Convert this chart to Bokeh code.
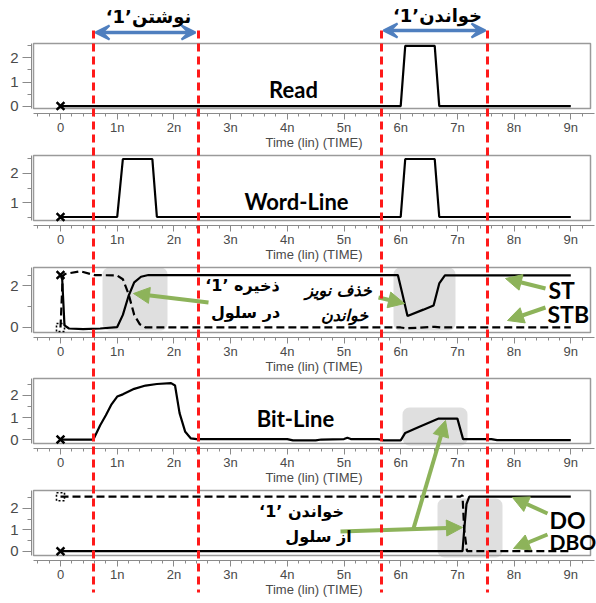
import numpy as np
from bokeh.plotting import figure
from bokeh.models import (Range1d, LinearAxis, FixedTicker, Label, Arrow,
                          NormalHead, VeeHead, BoxAnnotation)
from bokeh.embed import file_html
from bokeh.resources import INLINE

# ---------------- data ----------------
x_ticks = [0, 1, 2, 3, 4, 5, 6, 7, 8, 9]
x_tick_labels = ["0", "1n", "2n", "3n", "4n", "5n", "6n", "7n", "8n", "9n"]
x_axis_title = "Time (lin) (TIME)"

read_t = [0, 6.0, 6.08, 6.6, 6.68, 9.0]
read_v = [0, 0, 2.5, 2.5, 0, 0]

wl_t = [0, 1.0, 1.1, 1.62, 1.7, 6.0, 6.08, 6.6, 6.68, 9.0]
wl_v = [0.5, 0.5, 2.5, 2.5, 0.5, 0.5, 2.5, 2.5, 0.5, 0.5]

st_t = [0, 0.03, 0.07, 0.15, 0.4, 0.7, 1.0, 1.1, 1.2, 1.3, 1.42, 1.55, 2.5,
        5.95, 6.03, 6.12, 6.4, 6.58, 6.68, 6.78, 9.0]
st_v = [2.5, 2.3, 0.1, -0.05, -0.08, -0.05, 0.02, 0.6, 1.5, 2.15, 2.42, 2.5, 2.5,
        2.5, 1.6, 0.55, 0.85, 1.05, 2.1, 2.48, 2.48]

stb_t = [0, 0.04, 0.08, 0.35, 0.6, 1.0, 1.1, 1.2, 1.3, 1.4, 1.5, 6.0, 6.1, 6.6, 6.7, 9.0]
stb_v = [0, 2.45, 2.55, 2.68, 2.5, 2.48, 2.3, 1.6, 0.6, 0.15, 0.0, 0.0, -0.04, 0.03, 0.0, 0.0]

bl_t = [0, 0.58, 0.7, 0.8, 0.9, 1.0, 1.1, 1.3, 1.5, 1.7, 1.95, 2.02, 2.1, 2.2, 2.3,
        2.4, 4.0, 4.1, 4.5, 4.6, 5.0, 5.06, 5.12, 5.6, 5.7, 6.0, 6.08, 6.3,
        6.67, 7.0, 7.1, 7.6, 7.7, 9.0]
bl_v = [0, 0, 0.65, 1.1, 1.6, 1.95, 2.05, 2.3, 2.45, 2.52, 2.56, 2.45, 1.2, 0.35, 0.05,
        0.02, 0.02, -0.04, -0.04, 0.0, 0.02, 0.08, 0.02, 0.02, -0.04, -0.04, 0.3, 0.55,
        0.95, 0.95, 0.02, 0.02, -0.03, -0.03]

do_t = [0, 7.09, 7.12, 7.16, 7.21, 9.0]
do_v = [0, 0, 1.0, 2.2, 2.55, 2.55]

dbo_t = [0, 7.05, 7.09, 7.12, 7.17, 9.0]
dbo_v = [2.55, 2.55, 2.62, 1.0, 0.0, 0.0]

marks = {"t": [0]}

# ---------------- layout ----------------
W, H = 596, 603
PX0, PXS = 60.0, 56.7          # picture x of t=0, px per ns


def tx(px):
    return (px - PX0) / PXS


p = figure(width=W, height=H, output_backend="svg", toolbar_location=None,
           x_axis_type=None, y_axis_type=None, min_border=0,
           x_range=Range1d(tx(0), tx(W)), y_range=Range1d(H, 0))
p.outline_line_color = None
p.background_fill_color = "white"

AX = "#8a8a8a"
TXT = "#4a4a4a"
TICK_FONT = "Liberation Sans"

panels = [
    # name, box top px, box bottom px, value at bottom, value at top, y ticks, y minor
    ("p1", 43, 108, -0.1, 2.6, [0, 1, 2], [0.5, 1.5, 2.5]),
    ("p2", 155, 220, 0.38, 2.62, [1, 2], [0.5, 1.5, 2.5]),
    ("p3", 267, 332, -0.24, 2.86, [0, 2], [1, 2.5]),
    ("p4", 378, 443, -0.18, 2.77, [0, 1, 2], [0.5, 1.5, 2.5]),
    ("p5", 490, 555, -0.2, 2.84, [0, 1, 2], [0.5, 1.5, 2.5]),
]
x_minor = [round(v, 2) for v in np.arange(-0.4, 9.3, 0.2)]
XL, XR = tx(33), tx(590)

for name, top, bot, vlo, vhi, yt, ym in panels:
    s = (bot - top) / (vhi - vlo)

    def v(py, vlo=vlo, bot=bot, s=s):
        return vlo + (bot - py) / s
    p.extra_y_ranges[name] = Range1d(v(H), v(0))

    # panel box
    p.quad(left=[XL], right=[XR], bottom=[vlo], top=[vhi], y_range_name=name,
           fill_color=None, line_color="#9a9a9a", line_width=1.5)

    yax = LinearAxis(y_range_name=name, fixed_location=tx(31), bounds=(vlo, vhi),
                     ticker=FixedTicker(ticks=yt, minor_ticks=ym))
    yax.axis_line_color = AX
    yax.major_tick_line_color = AX
    yax.minor_tick_line_color = AX
    yax.major_tick_out = 9
    yax.major_tick_in = 0
    yax.minor_tick_out = 4
    yax.minor_tick_in = 0
    yax.major_label_standoff = 4
    yax.major_label_text_font = TICK_FONT
    yax.major_label_text_font_size = "15px"
    yax.major_label_text_color = TXT
    p.add_layout(yax, "left")

    xax = LinearAxis(y_range_name=name, fixed_location=v(bot + 5), bounds=(XL, tx(594)),
                     ticker=FixedTicker(ticks=x_ticks, minor_ticks=x_minor),
                     major_label_overrides=dict(zip(x_ticks, x_tick_labels)),
                     axis_label=x_axis_title)
    xax.axis_line_color = AX
    xax.major_tick_line_color = AX
    xax.minor_tick_line_color = AX
    xax.major_tick_out = 6
    xax.major_tick_in = 0
    xax.minor_tick_out = 3
    xax.minor_tick_in = 0
    xax.major_label_standoff = 0
    xax.major_label_text_font = TICK_FONT
    xax.major_label_text_font_size = "13px"
    xax.major_label_text_color = TXT
    xax.axis_label_text_font = TICK_FONT
    xax.axis_label_text_font_size = "13px"
    xax.axis_label_text_font_style = "normal"
    xax.axis_label_text_color = TXT
    xax.axis_label_standoff = -3
    p.add_layout(xax, "below")

# gray highlight boxes (picture px coords in default y range)
for l, r, t_, b_ in [(102, 167, 267, 330), (393, 455, 267, 330),
                     (402, 467, 407, 445), (437, 502, 498, 557)]:
    p.add_layout(BoxAnnotation(left=tx(l), right=tx(r), top=t_, bottom=b_,
                               fill_color="#d4d4d4", fill_alpha=0.75, line_color=None,
                               border_radius=7, level="underlay"))

LW = 2.2
p.line(read_t, read_v, y_range_name="p1", color="black", line_width=LW)
p.line(wl_t, wl_v, y_range_name="p2", color="black", line_width=LW)
p.line(st_t, st_v, y_range_name="p3", color="black", line_width=LW)
p.line(stb_t, stb_v, y_range_name="p3", color="black", line_width=LW, line_dash="8 4")
p.line(bl_t, bl_v, y_range_name="p4", color="black", line_width=LW)
p.line(do_t, do_v, y_range_name="p5", color="black", line_width=LW)
p.line(dbo_t, dbo_v, y_range_name="p5", color="black", line_width=LW, line_dash="8 4")

# start markers
for rn, yv in [("p1", read_v[0]), ("p2", wl_v[0]), ("p3", st_v[0]), ("p4", bl_v[0]), ("p5", do_v[0])]:
    p.scatter(marks["t"], [yv], y_range_name=rn, marker="x", size=11, line_width=2.5, color="black")
for rn, yv in [("p3", stb_v[0]), ("p5", dbo_v[0])]:
    p.scatter(marks["t"], [yv], y_range_name=rn, marker="square", size=8, fill_color=None,
              line_color="black", line_width=1.6, line_dash="2 2")

# red dashed phase lines
for xp in [93, 198, 381, 487]:
    p.segment(x0=[tx(xp)], y0=[30], x1=[tx(xp)], y1=[592], line_color="#ff1a1a",
              line_width=3, line_dash="8 5", level="overlay")

# blue double arrows
BLUE = "#4f7fbf"
for x0, x1, yy in [(95, 195, 32), (383, 485, 30)]:
    p.add_layout(Arrow(x_start=tx(x0), y_start=yy, x_end=tx(x1), y_end=yy,
                       line_color=BLUE, line_width=3.5,
                       start=VeeHead(size=14, fill_color=BLUE, line_color=BLUE, line_width=2),
                       end=VeeHead(size=14, fill_color=BLUE, line_color=BLUE, line_width=2)))

# green pointer arrows (tail -> head), picture px
GREEN = "#8db35a"
for (x0, y0), (x1, y1) in [((208, 302), (133, 293)), ((378, 297), (404, 303)),
                           ((545, 288), (505, 278)), ((545, 307), (507, 320)),
                           ((413, 528), (445, 420)), ((340, 531), (462, 527)),
                           ((547, 513), (512, 497)), ((547, 534), (513, 548))]:
    p.add_layout(Arrow(x_start=tx(x0), y_start=y0, x_end=tx(x1), y_end=y1,
                       line_color=GREEN, line_width=4,
                       end=NormalHead(size=16, fill_color=GREEN, line_color=GREEN)))


def label(px, py, text, size, font, style="bold", align="center", color="black"):
    p.add_layout(Label(x=tx(px), y=py, text=text, text_font=font, text_font_size=size,
                       text_font_style=style, text_align=align, text_baseline="middle",
                       text_color=color))


# headers
label(148, 16, "‘1’نوشتن", "18px", "DejaVu Sans")
label(437, 15, "‘1’خواندن", "18px", "DejaVu Sans")

# panel titles
label(293, 89, "Read", "22px", "Lato")
label(296, 201, "Word-Line", "22px", "Lato")
label(295, 418, "Bit-Line", "22px", "Lato")

# signal names
label(548, 289, "ST", "23px", "Lato", align="left")
label(547, 313, "STB", "23px", "Lato", align="left")
label(549, 519, "DO", "23px", "Lato", align="left")
label(549, 541, "DBO", "21px", "Lato", align="left")

# persian notes
label(242, 285, "‘1’ ذخیره", "16px", "DejaVu Sans")
label(245, 312, "در سلول", "16px", "DejaVu Sans")
label(338, 290, "خذف نویز", "16px", "DejaVu Sans", style="bold italic")
label(344, 315, "خواندن", "16px", "DejaVu Sans", style="bold italic")
label(301, 511, "‘1’ خواندن", "16px", "DejaVu Sans")
label(318, 536, "از سلول", "16px", "DejaVu Sans")

open("out.html", "w").write(file_html(p, INLINE))
